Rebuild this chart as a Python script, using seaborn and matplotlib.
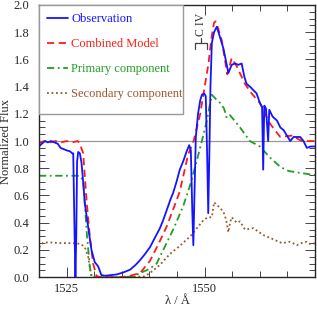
import numpy as np
import pandas as pd
import matplotlib
matplotlib.use("Agg")
import matplotlib.pyplot as plt
from matplotlib.patches import Rectangle
from matplotlib.ticker import MultipleLocator
import seaborn as sns

# Observed spectrum around the C IV doublet
obs_wl = [1520.0, 1520.5, 1521.1, 1521.6, 1522.2, 1522.8, 1523.4, 1523.9, 1524.5, 1525.1,
          1525.6, 1526.0, 1526.2, 1526.45, 1526.6, 1526.75, 1526.9, 1527.1, 1527.4, 1527.7,
          1528.0, 1528.3, 1528.9, 1529.5, 1530.1, 1530.7, 1531.3, 1532.0, 1533.0, 1534.1,
          1535.3, 1536.5, 1537.5, 1538.3, 1539.2, 1540.1, 1541.0, 1541.9, 1542.5, 1543.2,
          1543.8, 1544.3, 1544.9, 1545.5, 1546.2, 1546.7, 1547.2, 1547.5, 1547.75, 1547.95,
          1548.15, 1548.4, 1548.8, 1549.2, 1549.5, 1549.9, 1550.2, 1550.45, 1550.65, 1550.85,
          1551.05, 1551.3, 1551.7, 1552.2, 1552.8, 1553.4, 1553.8, 1554.3, 1554.9, 1555.5,
          1556.1, 1556.7, 1557.2, 1557.6, 1558.2, 1558.8, 1559.4, 1560.0, 1560.4, 1560.6,
          1560.8, 1561.1, 1561.5, 1561.7, 1562.3, 1563.1, 1563.7, 1564.3, 1564.9, 1565.5,
          1566.1, 1566.7, 1567.3, 1567.9, 1568.5, 1569.2, 1570.0]
obs_fl = [0.96, 0.98, 1.0, 0.99, 1.0, 0.99, 0.98, 0.95, 0.94, 0.93,
          0.925, 0.91, 0.91, 0.3, 0.0, 0.3, 0.85, 0.92, 0.91, 0.84,
          0.7, 0.54, 0.37, 0.2, 0.11, 0.08, 0.015, 0.01, 0.015, 0.02,
          0.035, 0.055, 0.09, 0.125, 0.17, 0.22, 0.29, 0.36, 0.42, 0.5,
          0.57, 0.62, 0.7, 0.79, 0.86, 0.92, 0.97, 0.93, 0.5, 0.235,
          0.6, 1.03, 1.2, 1.3, 1.34, 1.35, 1.33, 0.9, 0.47, 0.9,
          1.4, 1.72, 1.8, 1.84, 1.76, 1.68, 1.6, 1.5, 1.56, 1.57,
          1.56, 1.57, 1.47, 1.42, 1.4, 1.375, 1.35, 1.28, 1.25, 0.79,
          1.26, 1.24, 1.0, 1.23, 1.18, 1.15, 1.1, 1.08, 1.04, 1.0,
          1.03, 1.03, 1.03, 1.0, 0.95, 0.96, 0.96]

# Combined model
mod_wl = [1520.0, 1520.3, 1521.0, 1522.0, 1523.0, 1524.0, 1525.0, 1526.0, 1527.0, 1527.4,
          1528.0, 1528.6, 1529.2, 1529.8, 1530.4, 1531.0, 1533.0, 1535.0, 1536.5, 1538.3,
          1540.1, 1541.6, 1543.1, 1544.5, 1545.5, 1547.0, 1548.0, 1549.2, 1550.0, 1550.7,
          1551.2, 1551.7, 1552.0, 1552.5, 1553.1, 1553.7, 1554.1, 1554.9, 1555.8, 1557.3,
          1558.5, 1560.0, 1561.8, 1563.1, 1563.7, 1565.8, 1567.6, 1570.0]
mod_fl = [0.98, 0.99, 1.0, 0.99, 1.0, 0.99, 1.0, 0.99, 1.0, 0.98,
          0.91, 0.57, 0.30, 0.10, 0.01, 0.0, 0.0, 0.0, 0.01, 0.03,
          0.12, 0.24, 0.37, 0.52, 0.63, 0.9, 1.0, 1.2, 1.4, 1.57,
          1.75, 1.87, 1.88, 1.82, 1.74, 1.59, 1.49, 1.61, 1.55, 1.42,
          1.35, 1.28, 1.13, 1.06, 1.03, 1.04, 1.0, 1.0]

# Primary component
pri_wl = [1520.0, 1522.0, 1524.0, 1526.0, 1527.4, 1528.0, 1528.3, 1528.7, 1529.2, 1529.5,
          1532.0, 1535.0, 1537.0, 1538.3, 1540.0, 1541.3, 1542.5, 1544.3, 1546.1, 1547.4,
          1548.6, 1549.5, 1550.4, 1551.0, 1551.3, 1552.0, 1552.8, 1553.5, 1554.0, 1554.6,
          1556.4, 1558.2, 1560.0, 1561.8, 1563.7, 1565.2, 1566.7, 1568.3, 1570.0]
pri_fl = [0.745, 0.745, 0.745, 0.745, 0.745, 0.71, 0.54, 0.30, 0.08, 0.0,
          0.0, 0.0, 0.005, 0.03, 0.06, 0.1, 0.2, 0.35, 0.52, 0.68,
          0.86, 1.0, 1.15, 1.28, 1.34, 1.31, 1.28, 1.24, 1.17, 1.19,
          1.1, 1.0, 0.96, 0.88, 0.81, 0.78, 0.77, 0.76, 0.75]

# Secondary component
sec_wl = [1520.0, 1520.8, 1522.0, 1524.0, 1526.0, 1527.5, 1528.3, 1528.9, 1529.3, 1529.6,
          1535.0, 1539.0, 1540.1, 1541.9, 1543.7, 1545.5, 1547.4, 1548.6, 1549.8, 1550.6,
          1551.3, 1551.7, 1552.5, 1553.4, 1553.9, 1554.3, 1554.6, 1554.9, 1555.8, 1556.4,
          1557.3, 1558.8, 1560.6, 1562.3, 1564.0, 1565.5, 1566.7, 1567.5, 1568.5, 1569.2,
          1570.0]
sec_fl = [0.22, 0.255, 0.255, 0.25, 0.25, 0.245, 0.22, 0.15, 0.05, 0.0,
          0.0, 0.005, 0.03, 0.09, 0.17, 0.23, 0.3, 0.36, 0.42, 0.44,
          0.44, 0.55, 0.52, 0.48, 0.42, 0.33, 0.40, 0.44, 0.40, 0.41,
          0.35, 0.36, 0.31, 0.28, 0.25, 0.26, 0.235, 0.25, 0.26, 0.24,
          0.25]

labels = ["Observation", "Combined Model", "Primary component", "Secondary component"]
colors = ["#1414ff", "#ff1a1a", "#1f9e1f", "#99582a"]
styles = ["-", (0, (4, 2.5)), (0, (4, 2, 1, 2)), (0, (1, 1.5))]

civ_lines = [1548.2, 1550.5]  # C IV doublet marker ends

frames = []
for lab, wl, fl in zip(labels, [obs_wl, mod_wl, pri_wl, sec_wl], [obs_fl, mod_fl, pri_fl, sec_fl]):
    frames.append(pd.DataFrame({"wl": wl, "flux": fl, "curve": lab}))
df = pd.concat(frames, ignore_index=True)

sns.set_style("ticks")
plt.rcParams["font.family"] = ["Liberation Serif", "DejaVu Serif"]

fig = plt.figure(figsize=(3.17, 3.10), dpi=100)
ax = fig.add_axes([0.123, 0.106, 0.871, 0.878])

ax.axhline(1.0, color="#999999", lw=0.9, zorder=1)

# draw back to front so observation is on top
for lab, col, ls in list(zip(labels, colors, styles))[::-1]:
    sns.lineplot(data=df[df["curve"] == lab], x="wl", y="flux", ax=ax,
                 color=col, lw=1.3, linestyle=ls, sort=False,
                 estimator=None, legend=False)

# C IV bracket
xc = np.mean(civ_lines)
ax.plot([civ_lines[0], civ_lines[0], civ_lines[1], civ_lines[1]],
        [1.68, 1.72, 1.72, 1.68], color="#444444", lw=0.9)
ax.plot([xc, xc], [1.72, 1.76], color="#444444", lw=0.9)
ax.text(xc, 1.77, "C IV", rotation=90, ha="center", va="bottom", fontsize=8.5, color="#333333")

ax.set_xlim(1520, 1570)
ax.set_ylim(0, 2.0)
ax.xaxis.set_major_locator(MultipleLocator(25))
ax.xaxis.set_minor_locator(MultipleLocator(5))
ax.yaxis.set_major_locator(MultipleLocator(0.2))
ax.yaxis.set_minor_locator(MultipleLocator(0.05))
ax.yaxis.set_major_formatter(matplotlib.ticker.FormatStrFormatter("%.1f"))
ax.tick_params(which="both", direction="in", top=True, right=True, labelsize=9, width=0.6)
ax.tick_params(which="major", length=7)
ax.tick_params(which="minor", length=4)
ax.tick_params(axis="y", which="major", pad=7)
ax.tick_params(axis="x", which="major", pad=4)
for s in ax.spines.values():
    s.set_linewidth(1.0)

ax.set_xlabel("λ / Å", fontsize=9, labelpad=0)
ax.set_ylabel("Normalized Flux", fontsize=9, labelpad=1)

# legend box
ax.add_patch(Rectangle((0, 0.6), 0.522, 0.4, transform=ax.transAxes, fill=True,
                       facecolor="white", edgecolor="#999999", lw=1.0, zorder=5))
handles = [plt.Line2D([], [], color=c, lw=1.3, linestyle=s) for c, s in zip(colors, styles)]
leg = ax.legend(handles, labels, loc="upper left", bbox_to_anchor=(0.0, 1.0), frameon=False,
                fontsize=9, handlelength=1.7, handletextpad=0.25, labelspacing=1.05,
                borderpad=0.65, borderaxespad=0.0, labelcolor=colors)
leg.set_zorder(6)

fig.savefig("out.png", dpi=100)
